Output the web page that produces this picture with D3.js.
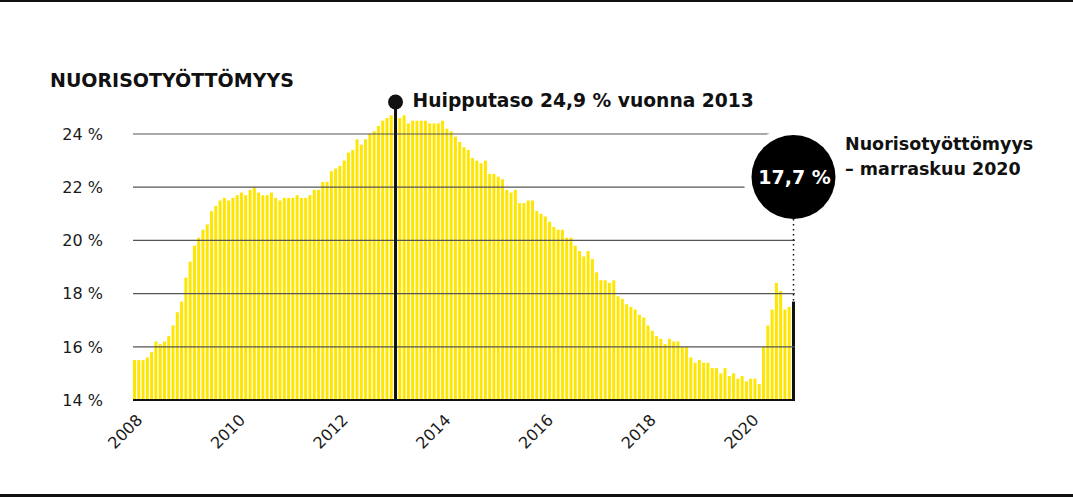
<!DOCTYPE html>
<html lang="fi">
  <head>
    <meta charset="UTF-8" />
    <title>Nuorisotyöttömyys</title>
    <script src="https://d3js.org/d3.v7.min.js"></script>
    <style>
      body { margin: 0; background: #fff; }
      text { font-family: "DejaVu Sans", sans-serif; }
      .grid line { stroke: #555; stroke-width: 1.2px; }
      .tick-label { font-size: 16px; fill: #1a1a1a; }
      .bold { font-weight: bold; fill: #111; }
    </style>
  </head>
  <body>
    <svg id="chart" width="1073" height="498"></svg>
    <script>
      // monthly youth unemployment (%), Jan 2008 - Nov 2020
      const values = [
        15.5, 15.5, 15.5, 15.6, 15.8, 16.2, 16.1, 16.2, 16.4, 16.8, 17.3, 17.7,
        18.6, 19.2, 19.8, 20.1, 20.4, 20.6, 21.1, 21.3, 21.5, 21.6, 21.5, 21.6,
        21.7, 21.8, 21.7, 21.9, 22.0, 21.8, 21.7, 21.7, 21.8, 21.6, 21.5, 21.6,
        21.6, 21.6, 21.7, 21.6, 21.6, 21.7, 21.9, 21.9, 22.2, 22.2, 22.6, 22.7,
        22.8, 23.0, 23.3, 23.4, 23.8, 23.6, 23.8, 24.0, 24.1, 24.3, 24.5, 24.6,
        24.7, 24.9, 24.6, 24.7, 24.4, 24.5, 24.5, 24.5, 24.5, 24.4, 24.4, 24.4,
        24.5, 24.2, 24.1, 23.9, 23.7, 23.5, 23.4, 23.1, 23.0, 22.9, 23.0, 22.5,
        22.5, 22.4, 22.3, 21.9, 21.8, 21.9, 21.4, 21.4, 21.5, 21.5, 21.1, 21.0,
        20.9, 20.7, 20.5, 20.4, 20.4, 20.1, 20.1, 19.8, 19.6, 19.4, 19.6, 19.3,
        18.8, 18.5, 18.5, 18.4, 18.5, 17.9, 17.8, 17.6, 17.5, 17.4, 17.2, 17.1,
        16.8, 16.6, 16.4, 16.3, 16.1, 16.3, 16.2, 16.2, 16.0, 16.0, 15.6, 15.4,
        15.5, 15.4, 15.4, 15.2, 15.2, 15.0, 15.2, 14.9, 15.0, 14.8, 14.9, 14.7,
        14.8, 14.8, 14.6, 16.0, 16.8, 17.4, 18.4, 18.1, 17.4, 17.5, 17.7
      ];
      const months = d3.timeMonth.range(new Date(2008, 0, 1), new Date(2020, 11, 1));
      const yearTicks = [2008, 2010, 2012, 2014, 2016, 2018, 2020];
      const yTicks = [14, 16, 18, 20, 22, 24];
      const peakText = "Huipputaso 24,9 % vuonna 2013";
      const latestText = "17,7 %";
      const latestLabel = ["Nuorisotyöttömyys", "– marraskuu 2020"];
      const title = "NUORISOTYÖTTÖMYYS";

      const svg = d3.select("#chart");
      const fmtPct = d => d + " %";

      const x = d3.scaleBand()
        .domain(d3.range(values.length))
        .range([133, 795])
        .paddingInner(0.3)
        .paddingOuter(0);
      const y = d3.scaleLinear().domain([14, 24]).range([400, 134]);
      const cx = i => x(i) + x.bandwidth() / 2;

      // frame lines
      svg.append("rect").attr("x", 0).attr("y", 0).attr("width", 1073).attr("height", 2).attr("fill", "#111");
      svg.append("rect").attr("x", 0).attr("y", 494).attr("width", 1073).attr("height", 3).attr("fill", "#111");

      svg.append("text")
        .attr("class", "bold")
        .attr("x", 50).attr("y", 87)
        .style("font-size", "19px")
        .text(title);

      const last = values.length - 1;
      const peak = d3.maxIndex(values);

      // bars
      svg.append("g")
        .selectAll("rect")
        .data(values)
        .join("rect")
        .attr("x", (d, i) => x(i))
        .attr("width", x.bandwidth())
        .attr("y", d => y(d))
        .attr("height", d => y(14) - y(d))
        .attr("fill", (d, i) => i === last ? "#111" : "#ffe600");

      // gridlines on top of bars
      svg.append("g")
        .attr("class", "grid")
        .selectAll("line")
        .data(yTicks.slice(1))
        .join("line")
        .attr("x1", 133).attr("x2", 795)
        .attr("y1", d => y(d)).attr("y2", d => y(d));

      svg.append("g")
        .selectAll("text")
        .data(yTicks)
        .join("text")
        .attr("class", "tick-label")
        .attr("x", 103)
        .attr("y", d => y(d))
        .attr("dy", "0.36em")
        .attr("text-anchor", "end")
        .text(fmtPct);

      // x axis
      svg.append("line")
        .attr("x1", 133).attr("x2", 795)
        .attr("y1", y(14)).attr("y2", y(14))
        .attr("stroke", "#111").attr("stroke-width", 2);

      svg.append("g")
        .selectAll("text")
        .data(yearTicks)
        .join("text")
        .attr("class", "tick-label")
        .attr("text-anchor", "end")
        .attr("transform", d => {
          const i = months.findIndex(m => m.getFullYear() === d);
          return "translate(" + (cx(i) + 9) + "," + 421 + ") rotate(-45)";
        })
        .text(d => d);

      // peak annotation
      svg.append("line")
        .attr("x1", cx(peak)).attr("x2", cx(peak))
        .attr("y1", 102).attr("y2", y(14))
        .attr("stroke", "#111").attr("stroke-width", 3);
      svg.append("circle")
        .attr("cx", cx(peak)).attr("cy", 102).attr("r", 7.5)
        .attr("fill", "#111");
      svg.append("text")
        .attr("class", "bold")
        .attr("x", cx(peak) + 17).attr("y", 107)
        .style("font-size", "18.7px")
        .text(peakText);

      // latest value annotation
      const lx = cx(last);
      svg.append("circle").attr("cx", lx).attr("cy", 177).attr("r", 50).attr("fill", "#fff");
      svg.append("line")
        .attr("x1", lx).attr("x2", lx)
        .attr("y1", 219).attr("y2", y(values[last]))
        .attr("stroke", "#111").attr("stroke-width", 1.5)
        .attr("stroke-dasharray", "1.5,3.5");
      svg.append("circle").attr("cx", lx).attr("cy", 177).attr("r", 42).attr("fill", "#000");
      svg.append("text")
        .attr("class", "bold")
        .attr("x", lx + 1).attr("y", 184)
        .attr("text-anchor", "middle")
        .style("fill", "#fff")
        .style("font-size", "19px")
        .text(latestText);
      svg.append("text")
        .attr("class", "bold")
        .style("font-size", "17.5px")
        .selectAll("tspan")
        .data(latestLabel)
        .join("tspan")
        .attr("x", 845)
        .attr("y", (d, i) => 150 + i * 25)
        .text(d => d);
    </script>
  </body>
</html>
